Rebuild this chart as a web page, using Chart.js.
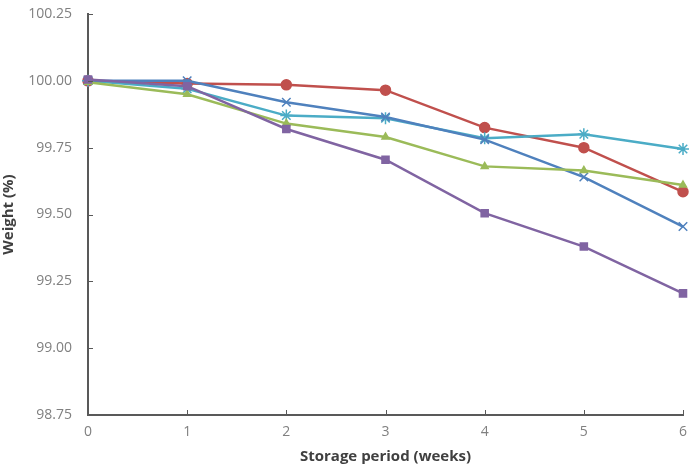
<!DOCTYPE html>
<html>
<head>
<meta charset="utf-8">
<script src="https://cdn.jsdelivr.net/npm/chart.js@4"></script>
<style>
html,body{margin:0;padding:0;background:#fff;}
#wrap{width:698px;height:466px;}
</style>
</head>
<body>
<div id="wrap"><canvas id="c" width="698" height="466"></canvas></div>
<script>
const weeks = ['0','1','2','3','4','5','6'];
const yTicks = [98.75, 99.00, 99.25, 99.50, 99.75, 100.00, 100.25];
const seriesRed    = [100.00, 99.99, 99.985, 99.965, 99.825, 99.75, 99.585];
const seriesBlue   = [100.00, 100.00, 99.92, 99.865, 99.78, 99.64, 99.455];
const seriesCyan   = [100.00, 99.97, 99.87, 99.86, 99.785, 99.80, 99.745];
const seriesGreen  = [99.995, 99.95, 99.84, 99.79, 99.68, 99.665, 99.61];
const seriesPurple = [100.005, 99.98, 99.82, 99.705, 99.505, 99.38, 99.205];

const innerTicks = {
  id: 'innerTicks',
  afterDraw(chart) {
    const ctx = chart.ctx;
    const xs = chart.scales.x, ys = chart.scales.y;
    const a = chart.chartArea;
    ctx.save();
    ctx.strokeStyle = '#595959';
    ctx.lineWidth = 1;
    ctx.beginPath();
    yTicks.forEach(v => {
      const py = Math.round(ys.getPixelForValue(v)) + 0.5;
      ctx.moveTo(a.left, py); ctx.lineTo(a.left + 5, py);
    });
    weeks.forEach((w, i) => {
      const px = Math.round(xs.getPixelForValue(i)) + 0.5;
      ctx.moveTo(px, a.bottom); ctx.lineTo(px, a.bottom - 5);
    });
    ctx.stroke();
    ctx.restore();
  }
};

const ds = (label, data, color, style, radius) => ({
  label, data, borderColor: color, backgroundColor: color,
  pointStyle: style, pointRadius: radius, pointHoverRadius: radius,
  pointBorderColor: color, pointBackgroundColor: color, pointBorderWidth: 1.5,
  borderWidth: 2.5, tension: 0, fill: false
});

new Chart(document.getElementById('c'), {
  type: 'line',
  data: {
    labels: weeks,
    datasets: [
      ds('Purple', seriesPurple, '#8064A2', 'rect', 5),
      ds('Green', seriesGreen, '#9BBB59', 'triangle', 4),
      ds('Blue', seriesBlue, '#4F81BD', 'crossRot', 6),
      ds('Cyan', seriesCyan, '#4BACC6', 'star', 6),
      ds('Red', seriesRed, '#C0504D', 'circle', 5)
    ]
  },
  options: {
    responsive: false,
    animation: false,
    devicePixelRatio: 1,
    layout: { padding: { top: 14, right: 15, left: 0, bottom: 0 } },
    plugins: { legend: { display: false }, tooltip: { enabled: false } },
    scales: {
      x: {
        type: 'category',
        offset: false,
        grid: { display: true, drawOnChartArea: false, drawTicks: false, color: '#595959' },
        border: { display: true, color: '#595959', width: 2 },
        ticks: { color: '#808080', font: { family: 'Open Sans', size: 14 }, padding: 9, maxRotation: 0 },
        title: { display: true, text: 'Storage period (weeks)', color: '#404040',
                 font: { family: 'Open Sans', size: 15, weight: 'bold' }, padding: { top: 5, bottom: 0 } },
        afterFit(s) { s.height = 51; s.paddingLeft = 0; s.paddingRight = 0; }
      },
      y: {
        min: 98.75, max: 100.25,
        grid: { display: true, drawOnChartArea: false, drawTicks: false, color: '#595959' },
        border: { display: true, color: '#595959', width: 2 },
        afterBuildTicks(s) { s.ticks = yTicks.map(v => ({ value: v })); },
        ticks: { color: '#808080', font: { family: 'Open Sans', size: 14 }, padding: 16,
                 callback: v => Number(v).toFixed(2) },
        title: { display: true, text: 'Weight (%)', color: '#404040',
                 font: { family: 'Open Sans', size: 15, weight: 'bold' }, padding: { top: 0, bottom: 6 } },
        afterFit(s) { s.width = 88; s.paddingTop = 0; s.paddingBottom = 0; }
      }
    }
  },
  plugins: [innerTicks]
});
</script>
</body>
</html>
